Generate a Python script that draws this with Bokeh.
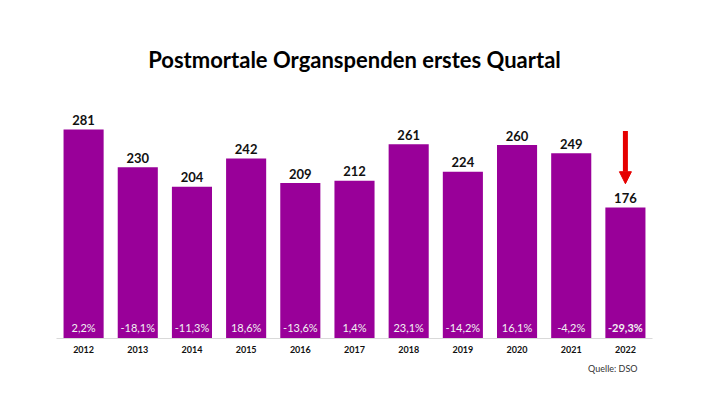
from bokeh.plotting import figure
from bokeh.models import ColumnDataSource, FactorRange, Range1d, Arrow, NormalHead, Title
from bokeh.core.properties import value
from bokeh.embed import file_html
from bokeh.resources import INLINE

years = ["2012", "2013", "2014", "2015", "2016", "2017", "2018", "2019", "2020", "2021", "2022"]
donations = [281, 230, 204, 242, 209, 212, 261, 224, 260, 249, 176]
changes = ["2,2%", "-18,1%", "-11,3%", "18,6%", "-13,6%", "1,4%", "23,1%", "-14,2%", "16,1%", "-4,2%", "-29,3%"]
change_bold = ["normal"] * 10 + ["bold"]
title_text = "Postmortale Organspenden erstes Quartal"
source_text = "Quelle: DSO"
arrow_year = ["2022"]
arrow_from = [279]
arrow_to = [208]

font = "Lato"
bar_color = "#990099"
red = "#e60000"

src = ColumnDataSource(dict(
    year=years,
    val=donations,
    lab=[str(v) for v in donations],
    lab_y=[v + 6 for v in donations],
    chg=changes,
    chg_y=[15] * len(years),
    chg_style=change_bold,
))
arrow_src = ColumnDataSource(dict(x=arrow_year, y0=arrow_from, y1=arrow_to))

p = figure(width=694, height=383, x_range=FactorRange(*years), y_range=Range1d(0, 340),
           output_backend="svg", toolbar_location=None,
           min_border_left=56, min_border_right=42, min_border_top=85, min_border_bottom=45)
p.title.text = title_text
p.title.align = "center"
p.title.text_font = font
p.title.text_font_size = "22px"
p.title.text_font_style = "bold"
p.title.text_color = "#000000"
p.title.standoff = 26

p.vbar(x="year", top="val", width=0.74, source=src, color=bar_color, line_color=None)
p.text(x="year", y="lab_y", text="lab", source=src, text_align="center", text_baseline="bottom",
       text_font=value(font), text_font_style="bold", text_font_size="13px", text_color="#111111")
p.text(x="year", y="chg_y", text="chg", source=src, text_align="center", text_baseline="middle",
       text_font=value(font), text_font_style="chg_style", text_font_size="11px", text_color="#f2f2f2")

p.add_layout(Arrow(end=NormalHead(size=12, fill_color=red, line_color=red),
                   source=arrow_src, x_start="x", y_start="y0", x_end="x", y_end="y1",
                   line_color=red, line_width=5))

p.add_layout(Title(text=source_text, align="right", text_font=font, text_font_size="9px",
                   text_font_style="normal", text_color="#333333", offset=15), "below")

p.yaxis.visible = False
p.xgrid.visible = False
p.ygrid.visible = False
p.outline_line_color = None
p.xaxis.axis_line_color = "#d9d9d9"
p.xaxis.major_tick_line_color = None
p.xaxis.minor_tick_line_color = None
p.xaxis.major_label_text_font = font
p.xaxis.major_label_text_font_style = "bold"
p.xaxis.major_label_text_font_size = "9px"
p.xaxis.major_label_text_color = "#111111"
p.xaxis.major_label_standoff = 1

open("out.html", "w").write(file_html(p, INLINE))
